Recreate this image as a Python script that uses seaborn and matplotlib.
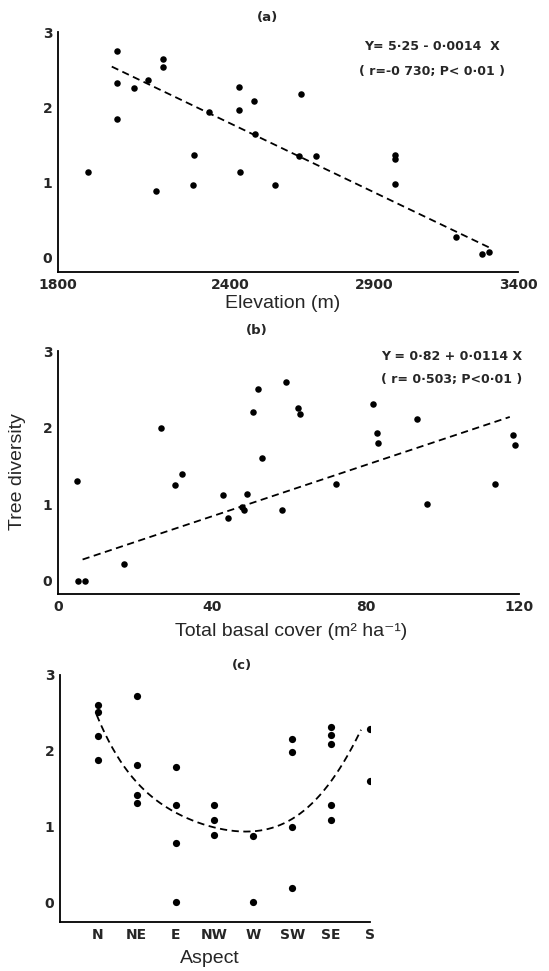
import numpy as np
import pandas as pd
import matplotlib
matplotlib.use("Agg")
import matplotlib.pyplot as plt
import seaborn as sns

# ---------------- data ----------------
# (a) elevation vs tree diversity
elev = [1903, 2004, 2004, 2004, 2063, 2112, 2142, 2164, 2166, 2273, 2271, 2326,
        2428, 2431, 2433, 2482, 2484, 2556, 2645, 2639, 2696, 2972, 2972, 2972,
        3183, 3274, 3300]
div_a = [1.14, 2.75, 2.32, 1.84, 2.25, 2.36, 0.89, 2.64, 2.54, 1.36, 0.96, 1.94,
         2.27, 1.96, 1.14, 2.08, 1.65, 0.97, 2.18, 1.35, 1.35, 1.37, 1.31, 0.98,
         0.28, 0.05, 0.08]
fit_a_x = [1987, 3303]
fit_a_y = [2.54, 0.13]
eq_a = ["Y= 5·25 - 0·0014  X", "( r=-0 730; P< 0·01 )"]
xticks_a = [1800, 2400, 2900, 3400]

# (b) total basal cover vs tree diversity
cover = [5.0, 5.3, 7.0, 17.2, 26.9, 30.5, 32.4, 42.9, 44.2, 47.8, 48.4, 49.3,
         50.8, 52.0, 53.1, 58.4, 59.3, 62.4, 63.0, 72.4, 82.1, 83.1, 83.2, 93.4,
         96.0, 113.7, 118.5, 119.0]
div_b = [1.31, 0.0, 0.0, 0.22, 2.0, 1.25, 1.39, 1.12, 0.82, 0.97, 0.92, 1.13,
         2.2, 2.5, 1.6, 0.93, 2.59, 2.25, 2.18, 1.27, 2.31, 1.93, 1.80, 2.11,
         1.01, 1.27, 1.90, 1.78]
fit_b_x = [6.4, 117.6]
fit_b_y = [0.28, 2.14]
eq_b = ["Y = 0·82 + 0·0114 X", "( r= 0·503; P<0·01 )"]
xticks_b = [0, 40, 80, 120]

# (c) aspect vs tree diversity
aspect_order = ["N", "NE", "E", "NW", "W", "SW", "SE", "S"]
aspect = (["N"] * 4 + ["NE"] * 4 + ["E"] * 4 + ["NW"] * 3 + ["W"] * 2
          + ["SW"] * 4 + ["SE"] * 5 + ["S"] * 2)
div_c = [2.61, 2.51, 2.19, 1.88,
         2.72, 1.81, 1.42, 1.31,
         1.78, 1.29, 0.78, 0.0,
         1.29, 1.09, 0.89,
         0.87, 0.0,
         2.15, 1.99, 1.00, 0.19,
         2.31, 2.21, 2.09, 1.28, 1.09,
         2.29, 1.60]
# samples (category index, diversity)
curve_c_x = [-0.03, 0.155, 0.41, 0.76, 1.02, 1.44, 2.0, 2.47, 2.99, 3.72, 4.37,
             4.97, 5.22, 5.65, 6.04, 6.43, 6.77]
curve_c_y = [2.49, 2.27, 1.96, 1.74, 1.59, 1.39, 1.19, 1.06, 0.98, 0.935, 0.97,
             1.10, 1.17, 1.39, 1.63, 1.92, 2.29]

yticks = [0, 1, 2, 3]

# ---------------- style ----------------
sns.set_theme(style="white")
plt.rcParams["font.family"] = ["DejaVu Sans"]
W, H = 549, 971
fig = plt.figure(figsize=(W / 100, H / 100), dpi=100)
fig.patch.set_facecolor("white")


def box(l, r, t, b):
    return [l / W, 1 - b / H, (r - l) / W, (b - t) / H]


def ftext(x, y, s, **kw):
    fig.text(x / W, 1 - y / H, s, **kw)


labfont = dict(fontsize=14, family=["Liberation Sans", "DejaVu Sans"])


def style_ax(ax):
    for s in ["top", "right"]:
        ax.spines[s].set_visible(False)
    for s in ["left", "bottom"]:
        ax.spines[s].set_color("black")
        ax.spines[s].set_linewidth(1.3)
    ax.tick_params(direction="in", length=4, width=1.1, color="black",
                   pad=4, labelsize=10)
    ax.set_facecolor("white")
    ax.set_xlabel("")
    ax.set_ylabel("")
    ax.set_yticks(yticks)
    ax.set_yticklabels([str(v) for v in yticks])
    for lab in ax.get_xticklabels() + ax.get_yticklabels():
        lab.set_fontweight("bold")


pt = dict(color="black", s=22, edgecolor="black", linewidth=0, zorder=3)

# ---- (a) ----
ax_a = fig.add_axes(box(58, 518, 32, 272))
dfa = pd.DataFrame({"elev": elev, "div": div_a})
sns.scatterplot(data=dfa, x="elev", y="div", ax=ax_a, **pt)
sns.lineplot(x=fit_a_x, y=fit_a_y, ax=ax_a, color="black", linewidth=1.3)
ax_a.lines[-1].set_dashes((4, 2.5))
ax_a.set_xlim(1800, 3400)
ax_a.set_ylim(-0.19, 3.0)
ax_a.set_xticks(xticks_a)
ax_a.set_xticklabels([str(v) for v in xticks_a])
style_ax(ax_a)
ftext(268, 18, "(a)", ha="center", va="center", fontsize=9.5, fontweight="bold")
ftext(432, 46, eq_a[0], ha="center", va="center", fontsize=9, fontweight="bold")
ftext(432, 71, eq_a[1], ha="center", va="center", fontsize=9, fontweight="bold")
ftext(283, 303, "Elevation (m)", ha="center", va="center", **labfont)

# ---- (b) ----
ax_b = fig.add_axes(box(58, 519, 351, 594))
dfb = pd.DataFrame({"cover": cover, "div": div_b})
sns.scatterplot(data=dfb, x="cover", y="div", ax=ax_b, **pt)
sns.lineplot(x=fit_b_x, y=fit_b_y, ax=ax_b, color="black", linewidth=1.3)
ax_b.lines[-1].set_dashes((4, 2.5))
ax_b.set_xlim(0, 120)
ax_b.set_ylim(-0.17, 3.0)
ax_b.set_xticks(xticks_b)
ax_b.set_xticklabels([str(v) for v in xticks_b])
style_ax(ax_b)
ftext(257, 330, "(b)", ha="center", va="center", fontsize=9.5, fontweight="bold")
ftext(452, 356, eq_b[0], ha="center", va="center", fontsize=9, fontweight="bold")
ftext(452, 379, eq_b[1], ha="center", va="center", fontsize=9, fontweight="bold")
ftext(291, 631, "Total basal cover (m² ha⁻¹)", ha="center", va="center", **labfont)
ftext(18, 472, "Tree diversity", ha="center", va="center", rotation=90, **labfont)

# ---- (c) ----
ax_c = fig.add_axes(box(60, 370, 675, 922))
dfc = pd.DataFrame({"aspect": aspect, "div": div_c})
sns.stripplot(data=dfc, x="aspect", y="div", order=aspect_order, jitter=False,
              color="black", size=5.2, ax=ax_c, zorder=3)
coef = np.polyfit(curve_c_x, curve_c_y, 5)
xs = np.linspace(min(curve_c_x), max(curve_c_x), 200)
sns.lineplot(x=xs, y=np.polyval(coef, xs), ax=ax_c, color="black", linewidth=1.3)
ax_c.lines[-1].set_dashes((4, 2.5))
ax_c.set_xlim(-0.97, 7.0)
ax_c.set_ylim(-0.26, 3.0)
ax_c.set_xticks(range(len(aspect_order)))
ax_c.set_xticklabels(aspect_order)
style_ax(ax_c)
ftext(242, 665, "(c)", ha="center", va="center", fontsize=9.5, fontweight="bold")
ftext(210, 958, "Aspect", ha="center", va="center", **labfont)

fig.savefig("out.png", dpi=100, facecolor="white")
